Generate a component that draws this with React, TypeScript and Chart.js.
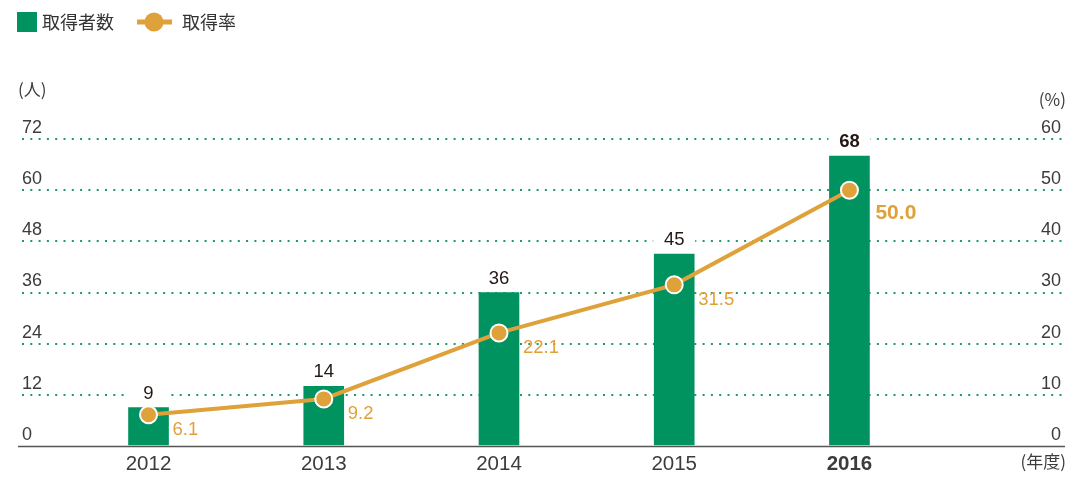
import React, { useEffect, useRef } from "react";
import { Chart, registerables } from "chart.js";

Chart.register(...registerables);

const years = [2012, 2013, 2014, 2015, 2016];
const holders = [9, 14, 36, 45, 68];
const rates = [6.1, 9.2, 22.1, 31.5, 50.0];
const leftTicks = [0, 12, 24, 36, 48, 60, 72];
const rightTicks = [0, 10, 20, 30, 40, 50, 60];

const GREEN = "#00925f";
const ORANGE = "#dfa139";
const DOT = "#1a9b6c";
const TEXT = "#3c3c3c";
const DARK = "#231815";
const FONT = '"Liberation Sans", "Noto Sans CJK JP", Arial, sans-serif';
const CJK = '"Noto Sans CJK JP", "Liberation Sans", sans-serif';

const labelsPlugin = {
  id: "customLabels",
  beforeDatasetsDraw(chart: any) {
    const ctx = chart.ctx;
    const meta = chart.getDatasetMeta(0);
    ctx.save();
    ctx.fillStyle = "#ffffff";
    meta.data.forEach((bar: any) => {
      ctx.fillRect(bar.x - 21, bar.y - 26, 42, 24);
    });
    ctx.restore();
  },
  afterDatasetsDraw(chart: any) {
    const ctx = chart.ctx;
    ctx.save();
    const barMeta = chart.getDatasetMeta(0);
    ctx.textBaseline = "middle";
    ctx.textAlign = "center";
    barMeta.data.forEach((bar: any, i: number) => {
      const last = i === holders.length - 1;
      ctx.font = `${last ? "bold " : ""}18.5px ${FONT}`;
      ctx.fillStyle = DARK;
      ctx.fillText(String(holders[i]), bar.x, bar.y - 14);
    });
    const lineMeta = chart.getDatasetMeta(1);
    ctx.textAlign = "left";
    lineMeta.data.forEach((pt: any, i: number) => {
      const last = i === rates.length - 1;
      ctx.fillStyle = ORANGE;
      if (last) {
        ctx.font = `bold 21px ${FONT}`;
        ctx.fillText(rates[i].toFixed(1), pt.x + 26, pt.y + 23);
      } else {
        ctx.font = `18.5px ${FONT}`;
        ctx.fillText(rates[i].toFixed(1), pt.x + 24, pt.y + 15);
      }
    });
    ctx.restore();
  },
  afterDraw(chart: any) {
    const ctx = chart.ctx;
    const area = chart.chartArea;
    ctx.save();
    // axis line
    ctx.strokeStyle = "#555555";
    ctx.lineWidth = 1.5;
    ctx.beginPath();
    ctx.moveTo(18, area.bottom + 0.5);
    ctx.lineTo(1065, area.bottom + 0.5);
    ctx.stroke();
    // unit labels
    ctx.fillStyle = TEXT;
    ctx.textBaseline = "middle";
    ctx.font = `17px ${CJK}`;
    ctx.textAlign = "left";
    ctx.fillText("(人)", 18, 90);
    ctx.textAlign = "right";
    ctx.fillText("(%)", 1066, 100);
    ctx.fillText("(年度)", 1066, 462);
    // legend
    ctx.fillStyle = GREEN;
    ctx.fillRect(17, 12, 20, 20);
    ctx.fillStyle = "#333333";
    ctx.textAlign = "left";
    ctx.font = `18px ${CJK}`;
    ctx.fillText("取得者数", 42, 22);
    ctx.strokeStyle = ORANGE;
    ctx.lineWidth = 5;
    ctx.beginPath();
    ctx.moveTo(137, 22);
    ctx.lineTo(172, 22);
    ctx.stroke();
    ctx.fillStyle = ORANGE;
    ctx.beginPath();
    ctx.arc(154, 22, 9.5, 0, Math.PI * 2);
    ctx.fill();
    ctx.fillStyle = "#333333";
    ctx.fillText("取得率", 182, 22);
    ctx.restore();
  },
};

export default function App() {
  const ref = useRef<HTMLCanvasElement | null>(null);

  useEffect(() => {
    if (!ref.current) return;
    const chart = new Chart(ref.current, {
      type: "bar",
      data: {
        datasets: [
          {
            type: "bar",
            label: "取得者数",
            data: years.map((y, i) => ({ x: y, y: holders[i] })),
            backgroundColor: GREEN,
            barThickness: 40,
            yAxisID: "y",
            order: 1,
          },
          {
            type: "line",
            label: "取得率",
            data: years.map((y, i) => ({ x: y, y: rates[i] })),
            borderColor: ORANGE,
            borderWidth: 4,
            backgroundColor: ORANGE,
            pointBackgroundColor: ORANGE,
            pointBorderColor: "#ffffff",
            pointBorderWidth: 2,
            pointRadius: 8.5,
            tension: 0,
            yAxisID: "y1",
            order: 0,
          },
        ] as any,
      },
      options: {
        animation: false,
        responsive: true,
        maintainAspectRatio: false,
        layout: { padding: { left: 22, right: 27, top: 139, bottom: 0 } },
        plugins: { legend: { display: false }, tooltip: { enabled: false } },
        scales: {
          x: {
            type: "linear",
            min: 2011.278,
            max: 2017.213,
            offset: false,
            grid: { display: false, drawTicks: false, offset: false },
            border: { display: false },
            afterBuildTicks: (scale: any) => {
              scale.ticks = years.map((v) => ({ value: v }));
            },
            afterFit: (scale: any) => {
              scale.height = 41;
            },
            ticks: {
              padding: 6,
              color: TEXT,
              callback: (v: any) => String(v),
              font: (c: any) => ({
                family: FONT,
                size: 20.5,
                weight: c.tick && c.tick.value === years[years.length - 1] ? "bold" : "normal",
              }),
            },
          },
          y: {
            type: "linear",
            position: "left",
            min: 0,
            max: 72,
            afterBuildTicks: (scale: any) => {
              scale.ticks = leftTicks.map((v) => ({ value: v }));
            },
            afterFit: (scale: any) => {
              scale.width = 0;
            },
            border: { display: false, dash: [2, 6.3] },
            grid: {
              drawTicks: false,
              color: (c: any) => (c.tick && c.tick.value === 0 ? "rgba(0,0,0,0)" : DOT),
              lineWidth: 2,
            },
            ticks: {
              mirror: true,
              padding: 0,
              labelOffset: -11,
              color: TEXT,
              font: { family: FONT, size: 18 },
            },
          },
          y1: {
            type: "linear",
            position: "right",
            min: 0,
            max: 60,
            afterBuildTicks: (scale: any) => {
              scale.ticks = rightTicks.map((v) => ({ value: v }));
            },
            afterFit: (scale: any) => {
              scale.width = 0;
            },
            border: { display: false },
            grid: { display: false, drawTicks: false },
            ticks: {
              mirror: true,
              padding: -1,
              labelOffset: -11,
              color: TEXT,
              font: { family: FONT, size: 18 },
            },
          },
        },
      } as any,
      plugins: [labelsPlugin],
    });
    return () => chart.destroy();
  }, []);

  return (
    <div style={{ position: "absolute", left: 0, top: 0, width: 1089, height: 487, background: "#fff" }}>
      <canvas ref={ref} />
    </div>
  );
}
